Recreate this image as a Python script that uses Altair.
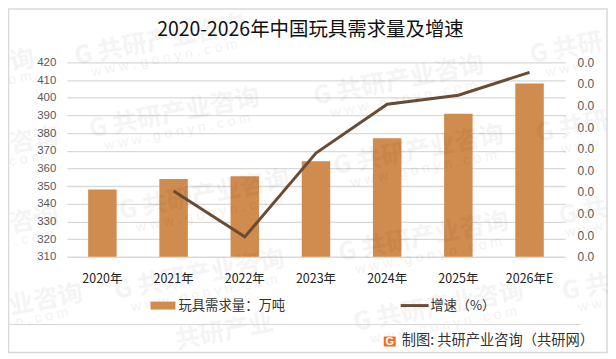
import altair as alt
import pandas as pd

years = ["2020年", "2021年", "2022年", "2023年", "2024年", "2025年", "2026年E"]
demand = [348, 354, 355.5, 364, 377, 391, 408]
growth = [None, 0.0152, 0.0046, 0.024, 0.0353, 0.0374, 0.0427]
left_ticks = [310, 320, 330, 340, 350, 360, 370, 380, 390, 400, 410, 420]
right_ticks = [0, 0.005, 0.01, 0.015, 0.02, 0.025, 0.03, 0.035, 0.04, 0.045]

brand_text = ["G 共研产业咨询"] * 8 + ["共研产业", "询", "咨询", "咨询", "业咨询", "G 共研", "G 共研", "G 共", "G 共"]
brand_x = [160, 175, 205, 200, 400, 420, 425, 440, 225, 22, 34, 34, 46, 568, 574, 585, 588]
brand_y = [40, 113, 195, 275, 80, 150, 237, 307, 332, 60, 140, 220, 300, 48, 127, 212, 288]
web_text = ["w w w . g o n y n . c o m"] * 8 + ["o m", "c o m", ". c o m", "n . c o m", "w w w .", "w w w", "w w w", "w w"]
web_x = [165, 178, 210, 205, 405, 425, 430, 445, 20, 26, 34, 42, 570, 582, 586, 592]
web_y = [58, 132, 214, 294, 99, 169, 256, 326, 78, 159, 238, 318, 68, 146, 230, 306]

BAR = "#D08B4E"
LINE = "#6A4C35"
GRID = "#D9D9D9"
CJK = "Noto Sans CJK SC"
OX, OY = 67, 62


def X(v):
    return alt.value(v - OX)


def Y(v):
    return alt.value(v - OY)


df = pd.DataFrame({"year": years, "demand": demand, "growth": growth})
xscale = alt.Scale(domain=years, paddingInner=0.6, paddingOuter=0.3)

border = alt.Chart().mark_rect(fill=None, stroke=GRID, strokeWidth=1.5).encode(
    x=X(8.5), x2=X(609), y=Y(8.5), y2=Y(353)
)

bars = alt.Chart(df).mark_bar(color=BAR, clip=True).encode(
    x=alt.X("year:N", scale=xscale, sort=years, title=None,
            axis=alt.Axis(labelAngle=0, labelFont=CJK, labelFontSize=12.5, labelColor="#222222",
                          labelPadding=16, domain=False, ticks=False, grid=False)),
    y=alt.Y("demand:Q", scale=alt.Scale(domain=[310, 420], zero=False, nice=False), title=None,
            axis=alt.Axis(values=left_ticks, labelFont="Liberation Sans", labelFontSize=11.5,
                          labelColor="#595959", labelPadding=11, domain=False, ticks=False,
                          grid=True, gridColor=GRID, gridWidth=1.3)),
)

line = alt.Chart(df.dropna()).mark_line(color=LINE, strokeWidth=3).encode(
    x=alt.X("year:N", scale=xscale, sort=years, axis=None),
    y=alt.Y("growth:Q", scale=alt.Scale(domain=[0, 0.045], nice=False), title=None,
            axis=alt.Axis(orient="right", values=right_ticks, format=".1f",
                          labelFont="Liberation Sans", labelFontSize=12, labelColor="#595959",
                          labelPadding=12, domain=False, ticks=False, grid=False)),
)

title = alt.Chart().mark_text(text="2020-2026年中国玩具需求量及增速", font=CJK, fontSize=19.5,
                              color="#111111", align="center", baseline="middle").encode(
    x=X(311.5), y=Y(30)
)

sw1 = alt.Chart().mark_rect(color=BAR).encode(x=X(151), x2=X(176), y=Y(302), y2=Y(310))
lg1 = alt.Chart().mark_text(text="玩具需求量：万吨", font=CJK, fontSize=13.4, color="#333333",
                            align="left", baseline="middle").encode(x=X(179), y=Y(306))
sw2 = alt.Chart().mark_rule(color=LINE, strokeWidth=3).encode(x=X(402), x2=X(430), y=Y(306))
lg2 = alt.Chart().mark_text(text="增速（%）", font=CJK, fontSize=13.2, color="#333333",
                            align="left", baseline="middle").encode(x=X(432), y=Y(306))
sep = alt.Chart().mark_rule(color=GRID, strokeWidth=1.2).encode(x=X(9), x2=X(583), y=Y(325))
logo = alt.Chart().mark_rect(color="#F26B21", cornerRadius=1).encode(
    x=X(385), x2=X(397), y=Y(337), y2=Y(347))
logo_g = alt.Chart().mark_text(text="G", font="Liberation Sans", fontWeight="bold", fontSize=11,
                               color="white", align="center", baseline="middle").encode(
    x=X(391), y=Y(342.5))
foot = alt.Chart().mark_text(text="制图: 共研产业咨询（共研网）", font=CJK, fontSize=14.3, color="#333333",
                             align="left", baseline="middle").encode(x=X(403), y=Y(342))

wm = pd.DataFrame({"t": brand_text, "px": [v - OX for v in brand_x], "py": [v - OY for v in brand_y]})
wm2 = pd.DataFrame({"t": web_text, "px": [v - OX for v in web_x], "py": [v - OY for v in web_y]})
wm_a = alt.Chart(wm).mark_text(font=CJK, fontWeight="bold", fontSize=25,
                               color="#000000", opacity=0.04, angle=349).encode(
    text="t:N", x=alt.X("px:Q", scale=None, axis=None), y=alt.Y("py:Q", scale=None, axis=None))
wm_b = alt.Chart(wm2).mark_text(font="Liberation Sans", fontSize=14,
                                color="#000000", opacity=0.05, angle=349).encode(
    text="t:N", x=alt.X("px:Q", scale=None, axis=None), y=alt.Y("py:Q", scale=None, axis=None))

chart = alt.layer(
    border, bars, line, wm_a, wm_b, title, sw1, lg1, sw2, lg2, sep, logo, logo_g, foot
).resolve_scale(x="independent", y="independent").properties(
    width=500, height=195,
    padding={"left": 59, "top": 54, "right": 43, "bottom": 97},
    autosize=alt.AutoSizeParams(type="none"),
    background="white",
).configure_view(stroke=None)

chart.save("out.html", embed_options={"renderer": "svg", "actions": False})
